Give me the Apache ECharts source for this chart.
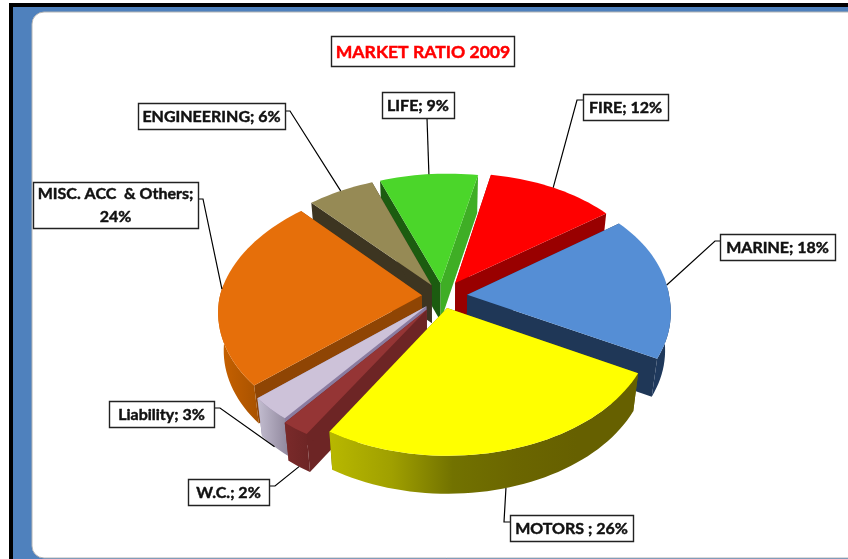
<!DOCTYPE html>
<html><head><meta charset="utf-8">
<style>html,body{margin:0;padding:0;background:#fff}#c{width:848px;height:559px}</style>
<script src="https://cdn.jsdelivr.net/npm/echarts@6/dist/echarts.min.js"></script>
</head><body><div id="c"></div>
<script>
// Data
var categories = ['FIRE','MARINE','MOTORS ','W.C.','Liability','MISC. ACC  & Others','ENGINEERING','LIFE'];
var values = [12,18,26,2,3,24,6,9];
var chartTitle = 'MARKET RATIO 2009';

// Styles
var topColors = ['#ff0000','#558ed5','#ffff00','#953535','#cdc2d9','#e66f0a','#968a55','#4bd62a'];
var rimStops = [
  ['#990000','#990000'],['#1f3a5f','#1f3757'],
  ['#b8b800','#a0a000','#727200','#6b6600','#666000','#666000'],['#7a2a2a','#6d2525'],
  ['#c3bdd0','#8f869c'],['#c96200','#a85200'],['#3d3521','#3d3521'],['#3fae25','#1c5c10']
];
var leftCut  = ['#990000','#1f3757','#6b6600','#6d2525','#8a7ca0','#8f4504','#3d3521','#1c5c10'];
var rightCut = ['#990000','#1f3757','#6b6600','#6d2525','#8a7ca0','#8f4504','#3d3521','#3fae25'];
var explode = [0.12,0.125,0.095,0.13,0.11,0.10,0.10,0.10];
var drawOrder = [7,6,0,5,1,4,3,2];
var startAngle = 10;
var cx = 442, cy = 296, R = 202, K = 0.638, P = 0.124, depth = 38, skew = 7, bottomScale = 0.975;

// Label layout (box + leader elbow)
var labelBoxes = [
  {x:583,y:94,w:85,h:26,from:[583,100],elbow:[577,100]},
  {x:720,y:234,w:115,h:26,from:[720,241],elbow:[715,241]},
  {x:510,y:515,w:123,h:26,from:[510,522],elbow:[504,522]},
  {x:188,y:479,w:81,h:26,from:[269,486],elbow:[275,486]},
  {x:109,y:401,w:105,h:26,from:[214,408],elbow:[220,408]},
  {x:33,y:182,w:165,h:46,from:[198,199],elbow:[203,199],lines:['MISC. ACC  & Others;','24%']},
  {x:138,y:103,w:147,h:26,from:[285,111],elbow:[290,111]},
  {x:382,y:92,w:72,h:26,from:[427,118],elbow:[427,118]}
];

var total = values.reduce(function(a,b){return a+b;},0);
var spans = [], acc = startAngle;
values.forEach(function(v){ var d = v/total*360; spans.push([acc,acc+d]); acc += d; });

function proj(u,v,off){
  var s = 1 + P*v;
  var x = s*R*u + skew*Math.max(0,-v);
  if(off) x *= bottomScale;
  return [cx + x, cy + s*K*R*v + (off||0)];
}
function slicePoint(i,deg,r,off){
  var rad = deg*Math.PI/180, m = (spans[i][0]+spans[i][1])/2*Math.PI/180, e = explode[i];
  return proj(r*Math.sin(rad)+e*Math.sin(m), -r*Math.cos(rad)-e*Math.cos(m), off);
}
function grad(stops){
  return {type:'linear',x:0,y:0,x2:1,y2:0,colorStops:stops.map(function(c,k){return {offset:k/(stops.length-1),color:c};})};
}
function renderSlice(params,api){
  var i = api.value(0), a = spans[i][0], b = spans[i][1], n = Math.max(6,Math.ceil((b-a)/2));
  var top=[], bot=[], rimT=[], rimB=[];
  for(var k=0;k<=n;k++){
    var d=a+(b-a)*k/n, t=slicePoint(i,d,1,0), q=slicePoint(i,d,1,depth);
    top.push(t); bot.push(q);
    var nd=((d%360)+360)%360;
    if(nd>=85 && nd<=275){ rimT.push(t); rimB.push(q); }
  }
  var apex = slicePoint(i,a,0,0), apexB = slicePoint(i,a,0,depth);
  var mk = function(pts,fill){ return {type:'polygon',shape:{points:pts},style:{fill:fill,stroke:null}}; };
  var kids = [
    mk([apex,top[0],bot[0],apexB],leftCut[i]),
    mk([apex,top[n],bot[n],apexB],rightCut[i])
  ];
  if(rimT.length>1) kids.push(mk(rimT.concat(rimB.slice().reverse()),grad(rimStops[i])));
  kids.push(mk([apex].concat(top),topColors[i]));
  return {type:'group',children:kids};
}
function renderLabel(params,api){
  var i = api.value(0), box = labelBoxes[i], m=(spans[i][0]+spans[i][1])/2, rad=m*Math.PI/180;
  var front = -Math.cos(rad) > 0.4;
  var anchor = slicePoint(i,m,1,front?depth:0);
  var lines = box.lines || [categories[i]+'; '+values[i]+'%'];
  var kids = [
    {type:'polyline',shape:{points:[box.from,box.elbow,anchor]},style:{stroke:'#000',lineWidth:1.2,fill:null}},
    {type:'rect',shape:{x:box.x+.5,y:box.y+.5,width:box.w,height:box.h},style:{fill:'#fff',stroke:'#222',lineWidth:1.4}}
  ];
  var lh = box.h/lines.length;
  lines.forEach(function(t,k){
    kids.push({type:'text',style:{text:t,x:box.x+box.w/2,y:box.y+lh*(k+.5)+.5,align:'center',verticalAlign:'middle',
      font:'bold 16px Lato',fill:'#111',stroke:'#111',lineWidth:.45}});
  });
  return {type:'group',children:kids};
}
var sliceData = drawOrder.map(function(i){return {name:categories[i],value:[i,values[i]]};});
var labelData = categories.map(function(c,i){return {name:c,value:[i,values[i]]};});

var chart = echarts.init(document.getElementById('c'),null,{renderer:'canvas'});
chart.setOption({
  animation:false,
  backgroundColor:'#fff',
  graphic:[
    {type:'rect',z:0,shape:{x:9,y:3,width:900,height:600},style:{fill:'#000'}},
    {type:'rect',z:0,shape:{x:13,y:7,width:900,height:600},style:{fill:'#4f81bd'}},
    {type:'rect',z:0,shape:{x:32,y:12,width:900,height:546,r:12},style:{fill:'#fff',stroke:'#b5b5b5',lineWidth:1}},
    {type:'group',z:5,children:[
      {type:'rect',shape:{x:331.5,y:36.5,width:183,height:30},style:{fill:'#fff',stroke:'#222',lineWidth:1.4}},
      {type:'text',style:{text:chartTitle,x:423,y:52,align:'center',verticalAlign:'middle',font:'bold 17.6px Lato',fill:'#ff0000',stroke:'#ff0000',lineWidth:.45}}
    ]}
  ],
  series:[
    {type:'custom',coordinateSystem:'none',silent:true,z:2,renderItem:renderSlice,data:sliceData},
    {type:'custom',coordinateSystem:'none',silent:true,z:3,renderItem:renderLabel,data:labelData}
  ]
});
</script></body></html>
